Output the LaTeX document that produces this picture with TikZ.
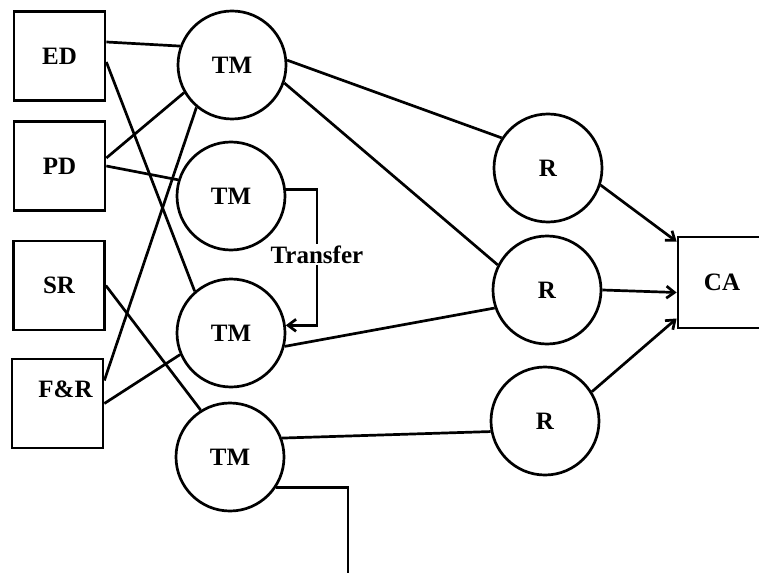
\documentclass[tikz,border=0pt]{standalone}
\usepackage{fontspec}
\setmainfont{Liberation Serif}
\usetikzlibrary{calc,arrows.meta}

\begin{document}
\begin{tikzpicture}[x=0.5pt,y=-0.5pt,line width=1.35pt,
    >={Straight Barb[length=4pt,width=6pt]},
    font=\fontsize{12.5}{14}\selectfont\bfseries,
    box/.style={draw,rectangle,minimum width=45.5pt,minimum height=44.5pt,inner sep=0pt},
    unit/.style={draw,circle,minimum size=54pt,inner sep=0pt}]
    \useasboundingbox (0,0) rectangle (759,572);
    \clip (0,0) rectangle (759,572);

    % Boxes on the left
    \node[box] (ed) at (59.5,56) {ED};
    \node[box] (pd) at (59.5,166) {PD};
    \node[box] (sr) at (59,285.5) {SR};
    \node[box,label={[xshift=4pt,yshift=7pt]center:F\&R}] (fr) at (57.5,403.5) {};

    % TM circles
    \node[unit] (tm1) at (232,65) {TM};
    \node[unit] (tm2) at (231,196) {TM};
    \node[unit] (tm3) at (231,333) {TM};
    \node[unit] (tm4) at (230,457) {TM};

    % R circles
    \node[unit] (r1) at (548,168) {R};
    \node[unit] (r2) at (547,290) {R};
    \node[unit] (r3) at (545,421) {R};

    % CA box
    \node[box,minimum width=44pt,minimum height=45.5pt] (ca) at (722,282.5) {CA};
    \coordinate (out) at (348,580);

    % Left side links
    \draw ($(ed.east)+(0,-14)$) -- (tm1.160);
    \draw ($(ed.east)+(0,6)$) -- (tm3.131);
    \draw ($(pd.east)+(0,-8)$) -- (tm1.210);
    \draw (pd.east) -- (tm2.163);
    \draw (sr.east) -- (tm4.122);
    \draw ($(fr.east)+(0,-23)$) -- (tm1.230);
    \draw (fr.east) -- (tm3.203);

    % Middle links
    \draw (tm1.5) -- (r1.147);
    \draw (tm1.341) -- (r2.153);
    \draw (r2.199) -- (tm3.346);
    \draw (tm4.20) -- (r3.191);

    % Transfer
    \draw[->] (tm2.7) -- ++(31,0) |- node[pos=0.24,fill=white,inner sep=1pt] {Transfer} (tm3.8);
    \draw (tm4.327) -| (out);

    % Into CA
    \draw[->] (r1.342) -- ($(ca.north west)+(0,6)$);
    \draw[->] (r2.east) -- ($(ca.west)+(0,10)$);
    \draw[->] (r3.32) -- ($(ca.west)+(0,36)$);
\end{tikzpicture}
\end{document}
